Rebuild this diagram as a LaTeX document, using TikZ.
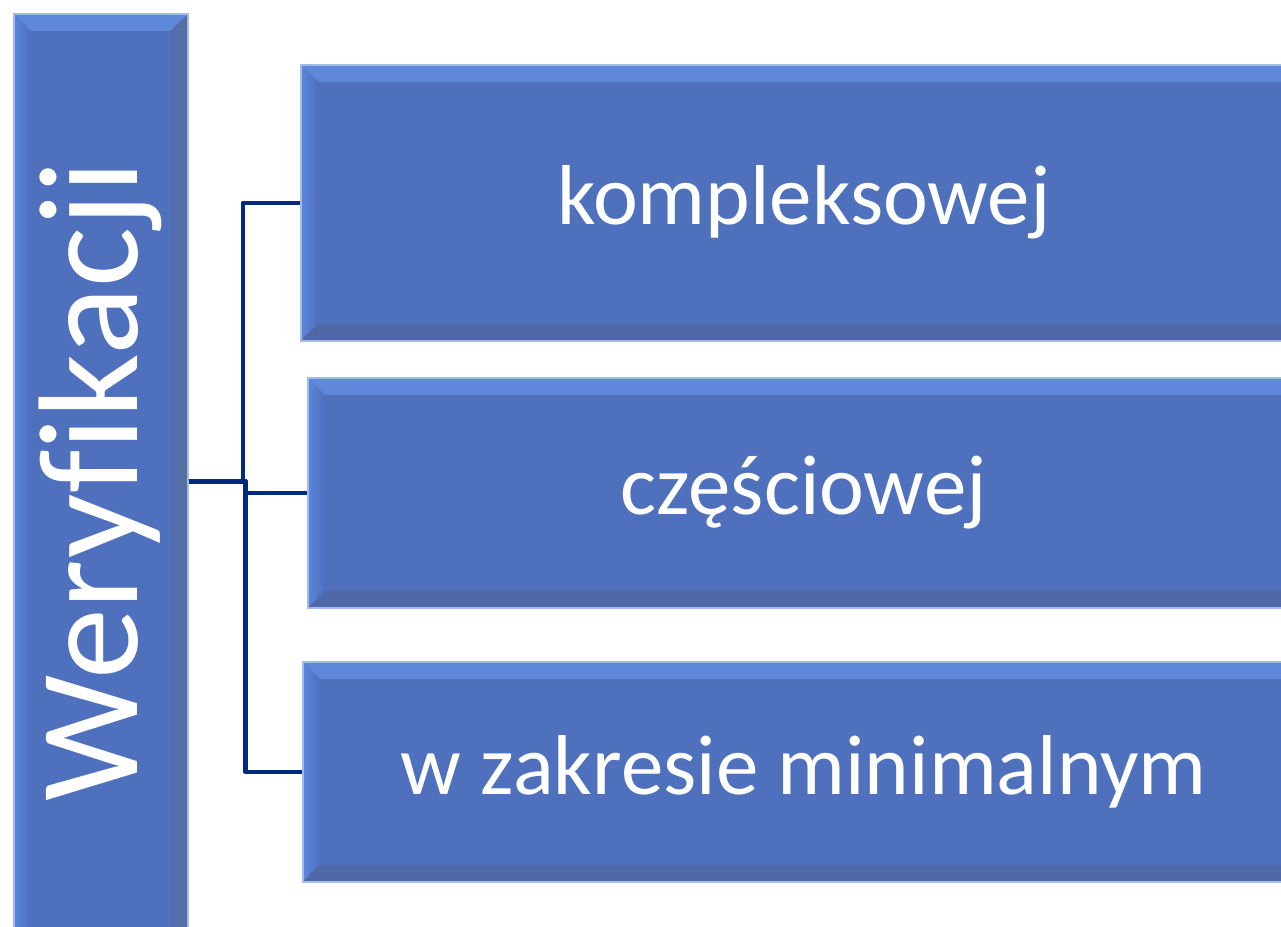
\documentclass[tikz,border=0pt]{standalone}
\usepackage{fontspec}
\setmainfont{Carlito}[Ligatures={NoCommon}]
\definecolor{boxfill}{HTML}{4E70BD}
\definecolor{bevlight}{HTML}{5A87DE}
\definecolor{bevtop}{HTML}{5479CC}
\definecolor{bevtoplight}{HTML}{5E88DA}
\definecolor{bevdark}{HTML}{5A6C9C}
\definecolor{bevbot}{HTML}{5168A6}
\definecolor{bevedge}{HTML}{A3BBEB}
\definecolor{connc}{HTML}{002A80}
\tikzset{
  bevbox/.style={draw=bevedge, line width=1.5pt, fill=boxfill, inner sep=0pt,
    text=white, font=\fontsize{85}{100}\selectfont, anchor=north west,
    path picture={
      \shade[top color=bevtoplight, bottom color=bevtop]
        (path picture bounding box.north west) -- (path picture bounding box.north east)
        -- ([shift={(-17pt,-17pt)}]path picture bounding box.north east)
        -- ([shift={(17pt,-17pt)}]path picture bounding box.north west) -- cycle;
      \shade[left color=bevlight, right color=boxfill]
        (path picture bounding box.north west) -- ([shift={(17pt,-17pt)}]path picture bounding box.north west)
        -- ([shift={(17pt,17pt)}]path picture bounding box.south west)
        -- (path picture bounding box.south west) -- cycle;
      \shade[left color=boxfill!60!bevdark, right color=bevdark]
        (path picture bounding box.north east) -- ([shift={(-17pt,-17pt)}]path picture bounding box.north east)
        -- ([shift={(-17pt,17pt)}]path picture bounding box.south east)
        -- (path picture bounding box.south east) -- cycle;
      \fill[bevbot]
        (path picture bounding box.south west) -- ([shift={(17pt,17pt)}]path picture bounding box.south west)
        -- ([shift={(-17pt,17pt)}]path picture bounding box.south east)
        -- (path picture bounding box.south east) -- cycle;
    }},
  conn/.style={draw=connc, line width=4.5pt, line join=round}
}
\begin{document}
\begin{tikzpicture}[x=1pt,y=-1pt]
\useasboundingbox (0,0) rectangle (1281,926);
\clip (0,0) rectangle (1281,926);
\fill[white] (0,0) rectangle (1281,926);
\node[bevbox, minimum width=174pt, minimum height=935pt] (root) at (13,13)
  {\fontsize{142}{160}\selectfont\rotatebox{90}{Weryfikacji}};
\node[bevbox, minimum width=1006pt, minimum height=276pt] (k1) at (300,64) {kompleksowej};
\node[bevbox, minimum width=992pt, minimum height=230pt] (k2) at (307,377) {częściowej};
\node[bevbox, minimum width=1002pt, minimum height=220pt] (k3) at (302,661) {w zakresie minimalnym};
\coordinate (v1) at (243,0);
\coordinate (v2) at (245.5,0);
\coordinate (v3) at (245.5,0);
\draw[conn] (root.east) -| (v1 |- k1.west) -- (k1.west);
\draw[conn] (root.east) -- (v2 |- root.east) |- (k2.west);
\draw[conn] (root.east) -| (v3 |- k3.west) -- (k3.west);
\end{tikzpicture}
\end{document}
